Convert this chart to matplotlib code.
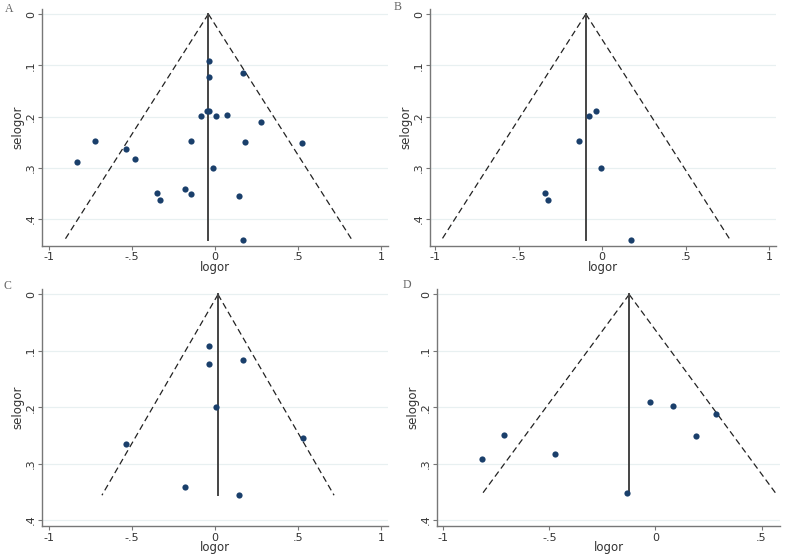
import numpy as np
import matplotlib
matplotlib.use("Agg")
import matplotlib.pyplot as plt

# panel A
a_x = [-0.038, -0.036, 0.170, -0.086, -0.048, -0.034, 0.006, 0.074, 0.275, -0.721, -0.144,
       0.178, 0.525, -0.533, -0.483, -0.828, -0.014, -0.349, -0.333, -0.180, -0.144, 0.142, 0.168]
a_y = [0.091, 0.122, 0.116, 0.198, 0.189, 0.189, 0.198, 0.196, 0.211, 0.248, 0.248,
       0.250, 0.252, 0.263, 0.282, 0.289, 0.300, 0.349, 0.363, 0.341, 0.351, 0.354, 0.440]
a_center = -0.040

# panel B
b_x = [-0.080, -0.038, -0.137, -0.008, -0.341, -0.327, 0.175]
b_y = [0.198, 0.189, 0.248, 0.300, 0.349, 0.363, 0.440]
b_center = -0.098

# panel C
c_x = [-0.034, -0.034, 0.170, 0.006, -0.533, 0.527, -0.178, 0.144]
c_y = [0.092, 0.123, 0.116, 0.200, 0.265, 0.254, 0.341, 0.356]
c_center = 0.018

# panel D
d_x = [-0.024, 0.083, 0.287, 0.190, -0.712, -0.818, -0.475, -0.132]
d_y = [0.190, 0.197, 0.212, 0.251, 0.249, 0.291, 0.282, 0.352]
d_center = -0.124

panels = [
    ("A", a_x, a_y, a_center, [0.0534, 0.558, 0.4396, 0.426], (-1.04, 1.04), (0.452, -0.01),
     [-1, -0.5, 0, 0.5, 1], ["-1", "-.5", "0", ".5", "1"], (5, 9)),
    ("B", b_x, b_y, b_center, [0.5465, 0.558, 0.4396, 0.426], (-1.03, 1.04), (0.452, -0.01),
     [-1, -0.5, 0, 0.5, 1], ["-1", "-.5", "0", ".5", "1"], (394, 7)),
    ("C", c_x, c_y, c_center, [0.0534, 0.0535, 0.4396, 0.427], (-1.04, 1.04), (0.411, -0.01),
     [-1, -0.5, 0, 0.5, 1], ["-1", "-.5", "0", ".5", "1"], (4, 286)),
    ("D", d_x, d_y, d_center, [0.5553, 0.0535, 0.4358, 0.427], (-1.03, 0.587), (0.411, -0.01),
     [-1, -0.5, 0, 0.5], ["-1", "-.5", "0", ".5"], (403, 285)),
]

W, H = 787, 556
fig = plt.figure(figsize=(7.87, 5.56), dpi=100)
fig.patch.set_facecolor("white")

for name, xs, ys, center, pos, xlim, ylim, xt, xtl, lab in panels:
    ax = fig.add_axes(pos)
    semax = max(ys)
    for t in [0, 0.1, 0.2, 0.3, 0.4]:
        ax.axhline(t, color="#e8f0f1", lw=0.9, zorder=0)
    se = np.array([0, semax])
    ax.plot(center - 1.96 * se, se, color="#222222", lw=0.9, ls=(0, (5, 3)))
    ax.plot(center + 1.96 * se, se, color="#222222", lw=0.9, ls=(0, (5, 3)))
    ax.plot([center, center], [0, semax], color="#444444", lw=1.4)
    ax.scatter(xs, ys, s=20, color="#1a3f6b", zorder=3, linewidths=0)
    ax.set_xlim(*xlim)
    ax.set_ylim(*ylim)
    ax.set_xticks(xt)
    ax.set_xticklabels(xtl)
    ax.set_yticks([0, 0.1, 0.2, 0.3, 0.4])
    ax.set_yticklabels(["0", ".1", ".2", ".3", ".4"], rotation=90, va="center")
    for s in ["top", "right"]:
        ax.spines[s].set_visible(False)
    for s in ["left", "bottom"]:
        ax.spines[s].set_color("#777777")
        ax.spines[s].set_linewidth(1.0)
    ax.tick_params(colors="#777777", labelcolor="#333333", labelsize=8, length=3, width=0.8, pad=1.5)
    ax.set_xlabel("logor", fontsize=8.5, color="#333333", labelpad=-1)
    ax.set_ylabel("selogor", fontsize=8.5, color="#333333", labelpad=1)
    fig.text(lab[0] / W, 1 - lab[1] / H, name, family="Liberation Serif", fontsize=8.5,
             color="#666666", va="center", ha="left")

fig.savefig("out.png", dpi=100)
